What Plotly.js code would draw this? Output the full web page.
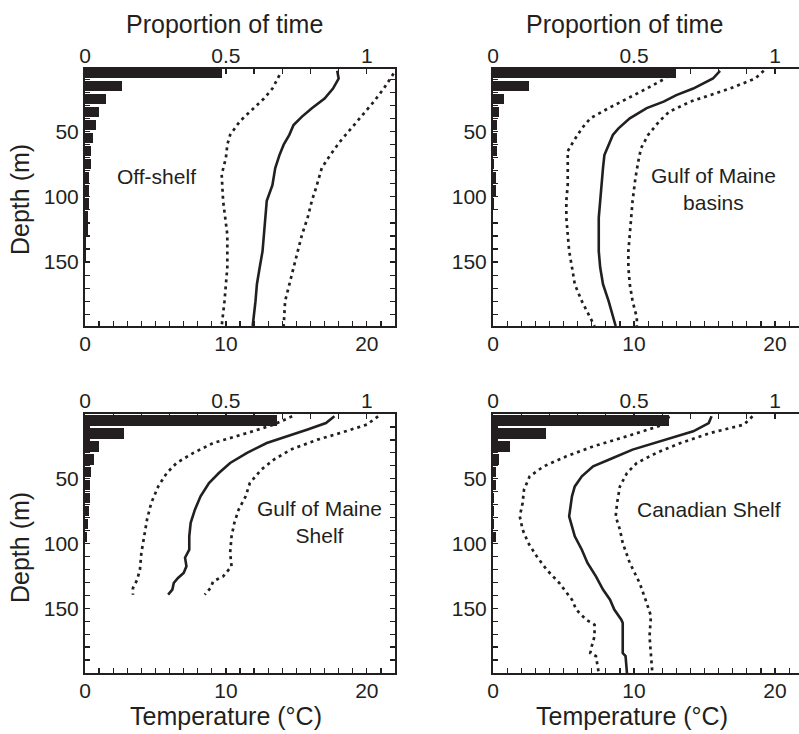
<!DOCTYPE html>
<html>
<head>
<meta charset="utf-8">
<script src="https://cdn.plot.ly/plotly-3.0.1.min.js"></script>
<style>html,body{margin:0;padding:0;background:#fff;}#chart{width:799px;height:734px;}</style>
</head>
<body>
<div id="chart"></div>
<script>
// ---------- DATA ----------
const binDepth = [5,15,25,35,45,55,65,75,85,95,105,115,125,135,145,155,165,175,185,195];

// Off-shelf
const offBars = [0.486,0.133,0.075,0.049,0.038,0.028,0.021,0.021,0.015,0.015,0.014,0.012,0.010,0.003,0.002,0.001,0,0,0,0];
const offDepth = [3.4,9.3,17,24.6,32,38.5,45,52.5,60,68,78,91,103,116,129,141.6,154,167,180,199];
const offMean  = [17.9,18.0,17.6,17.0,16.1,15.4,14.8,14.5,14.1,13.8,13.5,13.3,12.9,12.8,12.7,12.6,12.4,12.2,12.1,11.9];
const offLowDepth = [6.7,17,24.6,34.7,42,52.5,60,70,83,103,129,154,180,199];
const offLow   = [13.8,13.3,12.7,11.7,11.0,10.3,10.1,10.0,9.7,9.8,10.1,10.1,9.9,9.7];
const offHighDepth = [5.5,17,27,37,47.5,57.6,68,78,93,103,116,129,141.6,154,167,180,199];
const offHigh  = [21.9,21.2,20.5,19.7,18.9,18.1,17.4,16.8,16.4,16.1,15.8,15.4,15.1,14.8,14.5,14.2,14.1];

// Gulf of Maine basins
const gbBars = [0.649,0.127,0.038,0.020,0.013,0.013,0.013,0.004,0.012,0.012,0.002,0.001,0,0,0,0,0,0,0,0];
const gbDepth = [3.4,9.3,17,22,27,32,39.8,47.5,52.5,60,68,78,90.7,103,116,129,141.6,154,167,180,192.5,199];
const gbMean  = [16.1,15.6,14.2,13.0,12.1,10.9,9.7,8.9,8.5,8.2,7.9,7.8,7.7,7.6,7.5,7.5,7.5,7.6,7.8,8.2,8.5,8.7];
const gbLowDepth = [3.4,9.3,17,24.6,32,39.8,47.5,57.6,65,78,90.7,103,116,129,141.6,154,167,180,192.5,199];
const gbLow   = [12.8,12.2,10.9,9.5,8.2,6.9,6.3,5.7,5.3,5.3,5.3,5.2,5.2,5.3,5.4,5.6,5.8,6.3,6.9,7.2];
const gbHighDepth = [3.4,9.3,17,22,27,34.7,42,52.5,62.7,73,85.6,103,116,129,141.6,154,167,180,192.5,199];
const gbHigh  = [19.2,18.6,16.8,15.4,14.0,12.5,11.8,11.0,10.5,10.3,10.1,9.9,9.8,9.7,9.6,9.6,9.7,9.9,10.2,10.2];

// Gulf of Maine Shelf
const gsBars = [0.680,0.139,0.050,0.033,0.023,0.018,0.018,0.013,0.012,0.006,0,0,0,0,0,0,0,0,0,0];
const gsDepth = [1.8,7,12,17,22.4,30,37.8,45.6,53.3,63.6,73.9,84,94.5,104.8,111,117.6,122.8,126.6,130.5,135.6,139.5];
const gsMean  = [17.7,17.1,15.8,14.4,12.9,11.5,10.3,9.5,8.8,8.2,7.8,7.5,7.4,7.4,7.1,7.2,7.0,6.6,6.3,6.2,5.9];
const gsLowDepth = [1.8,8.2,14.7,22.4,30,37.8,45.6,55.9,68.7,81.6,94.5,107.3,120,128,134.4,139.5];
const gsLow   = [14.7,13.4,11.5,9.1,7.7,6.5,5.8,5.2,4.7,4.4,4.2,4.0,3.9,3.7,3.4,3.4];
const gsHighDepth = [1.8,8.2,14.7,19.8,27.5,35.3,43,53.3,63.6,73.9,84,94.5,107.3,117.6,125.4,129.2,134.4,139.5];
const gsHigh  = [20.8,20.0,18.1,16.5,14.6,13.4,12.5,11.7,11.4,10.9,10.6,10.4,10.3,10.4,9.8,9.1,8.9,8.5];

// Canadian Shelf
const csBars = [0.625,0.189,0.059,0.020,0.012,0.012,0.003,0.003,0.003,0.012,0.001,0,0,0,0,0,0,0,0,0];
const csDepth = [1.8,7,13.4,19.8,27.5,34,40.4,48.1,55.9,63.6,73.9,79,86.7,94.5,104.8,115,125.4,135.6,143.4,151,158.8,161.4,184.6,187,200];
const csMean  = [15.5,15.3,14.2,12.3,9.9,8.5,7.1,6.3,5.8,5.6,5.5,5.4,5.6,5.8,6.3,6.7,7.3,7.8,8.3,8.6,9.1,9.2,9.2,9.4,9.5];
const csLowDepth = [1.8,8.2,17.2,25,32.7,40.4,48.1,58.4,68.7,79,89.3,99.6,109.9,120.2,130.5,143.4,151,158.8,162.7,171.7,179.4,184.6,187,200];
const csLow   = [12.5,12.1,9.5,7.1,5.2,3.6,2.6,2.2,2.1,1.9,2.1,2.5,3.1,3.8,4.7,5.6,5.9,6.6,7.2,7.2,7.0,6.9,7.3,7.5];
const csHighDepth = [1.8,8.2,14.7,22.4,30,37.8,45.6,55.9,68.7,79,89.3,99.6,115,130.5,146,156,171.7,187,200];
const csHigh  = [18.4,17.8,15.4,13.3,11.6,10.2,9.5,9.0,8.8,8.7,9.0,9.2,9.7,10.4,10.9,11.2,11.1,11.2,11.3];

const panelNames = ["Off-shelf", "Gulf of Maine<br>basins", "Gulf of Maine<br>Shelf", "Canadian Shelf"];
const tempTickVals = Array.from({length:23}, (_, i) => i);
const tempTickText = tempTickVals.map(v => (v % 10 === 0 ? String(v) : ""));
const propTickVals = Array.from({length:12}, (_, i) => i / 10);
const propTickText = ["0","","","","","0.5","","","","","1",""];
const depthTickVals = Array.from({length:19}, (_, i) => (i + 1) * 10);
const depthTickText = depthTickVals.map(v => (v % 50 === 0 ? String(v) : ""));

// ---------- BUILD ----------
const INK = "#231f20";
const FONT = "Liberation Sans, Arial, Helvetica, sans-serif";
const W = 799, H = 734;

const panels = [
  {bars: offBars, md: offDepth, m: offMean, ld: offLowDepth, l: offLow, hd: offHighDepth, h: offHigh},
  {bars: gbBars, md: gbDepth, m: gbMean, ld: gbLowDepth, l: gbLow, hd: gbHighDepth, h: gbHigh},
  {bars: gsBars, md: gsDepth, m: gsMean, ld: gsLowDepth, l: gsLow, hd: gsHighDepth, h: gsHigh},
  {bars: csBars, md: csDepth, m: csMean, ld: csLowDepth, l: csLow, hd: csHighDepth, h: csHigh}
];

// pixel boxes [left, right, top, bottom]
const boxes = [
  [85, 395, 69, 326],
  [493, 799, 69, 326],
  [85, 395, 414, 673],
  [493, 799, 414, 673]
];
const tempRanges = [[0,22],[0,21.7],[0,22],[0,21.7]];
const propRanges = [[0,1.1],[0,1.085],[0,1.1],[0,1.085]];
const depthRanges = [[199,2],[199,2],[200,0],[200,0]];

const traces = [];
const layout = {
  width: W, height: H,
  margin: {l:0, r:0, t:0, b:0},
  paper_bgcolor: "#fff", plot_bgcolor: "rgba(0,0,0,0)",
  showlegend: false,
  font: {family: FONT, color: INK, size: 21},
  annotations: [],
  bargap: 0
};

const tickStyle = {ticks: "inside", ticklen: 5, tickwidth: 1.2, tickcolor: INK,
  showline: true, linecolor: INK, linewidth: 2, showgrid: false, zeroline: false,
  fixedrange: true, tickfont: {family: FONT, size: 21, color: INK}};

panels.forEach((p, i) => {
  const k = i + 1;
  const b = boxes[i];
  const xd = [b[0] / W, b[1] / W];
  const yd = [(H - b[3]) / H, (H - b[2]) / H];
  const xT = "x" + (k === 1 ? "" : k);
  const xP = "x" + (k + 4);
  const yA = "y" + (k === 1 ? "" : k);

  layout["xaxis" + (k === 1 ? "" : k)] = Object.assign({}, tickStyle, {
    domain: xd, anchor: yA, range: tempRanges[i], side: "bottom",
    tickmode: "array", tickvals: tempTickVals, ticktext: tempTickText, ticklabelstandoff: -2
  });
  layout["xaxis" + (k + 4)] = Object.assign({}, tickStyle, {
    overlaying: xT, anchor: yA, range: propRanges[i], side: "top",
    tickmode: "array", tickvals: propTickVals, ticktext: propTickText, ticklabelstandoff: -4
  });
  layout["yaxis" + (k === 1 ? "" : k)] = Object.assign({}, tickStyle, {
    domain: yd, anchor: xT, range: depthRanges[i],
    tickmode: "array", tickvals: depthTickVals, ticktext: depthTickText,
    mirror: (i % 2 === 0) ? "ticks" : false, ticklabelstandoff: 0
  });

  traces.push({type: "bar", orientation: "h", x: p.bars, y: binDepth, width: 8,
    xaxis: xP, yaxis: yA, marker: {color: INK, line: {width: 0}}, hoverinfo: "skip"});
  traces.push({type: "scatter", mode: "lines", x: p.l, y: p.ld, xaxis: xT, yaxis: yA,
    line: {color: INK, width: 2.7, dash: "3px,4px"}, hoverinfo: "skip"});
  traces.push({type: "scatter", mode: "lines", x: p.h, y: p.hd, xaxis: xT, yaxis: yA,
    line: {color: INK, width: 2.7, dash: "3px,4px"}, hoverinfo: "skip"});
  traces.push({type: "scatter", mode: "lines", x: p.m, y: p.md, xaxis: xT, yaxis: yA,
    line: {color: INK, width: 2.6}, hoverinfo: "skip"});
});

// panel labels
const labelPos = [[156,176],[713,189],[319,522],[709,510]];
panelNames.forEach((t, i) => {
  layout.annotations.push({text: t, xref: "paper", yref: "paper",
    x: labelPos[i][0] / W, y: (H - labelPos[i][1]) / H, xanchor: "center", yanchor: "middle",
    showarrow: false, font: {family: FONT, size: 21, color: INK}, align: "center"});
});
// axis titles
const titleFont = {family: FONT, size: 25, color: INK};
[[224,24,"Proportion of time",0],[624,24,"Proportion of time",0],
 [226,716,"Temperature (°C)",0],[632,716,"Temperature (°C)",0],
 [20,200,"Depth (m)",-90],[20,548,"Depth (m)",-90]].forEach(a => {
  layout.annotations.push({text: a[2], xref: "paper", yref: "paper",
    x: a[0] / W, y: (H - a[1]) / H, xanchor: "center", yanchor: "middle",
    textangle: a[3], showarrow: false, font: titleFont});
});

Plotly.newPlot("chart", traces, layout, {staticPlot: true, displayModeBar: false});
</script>
</body>
</html>
